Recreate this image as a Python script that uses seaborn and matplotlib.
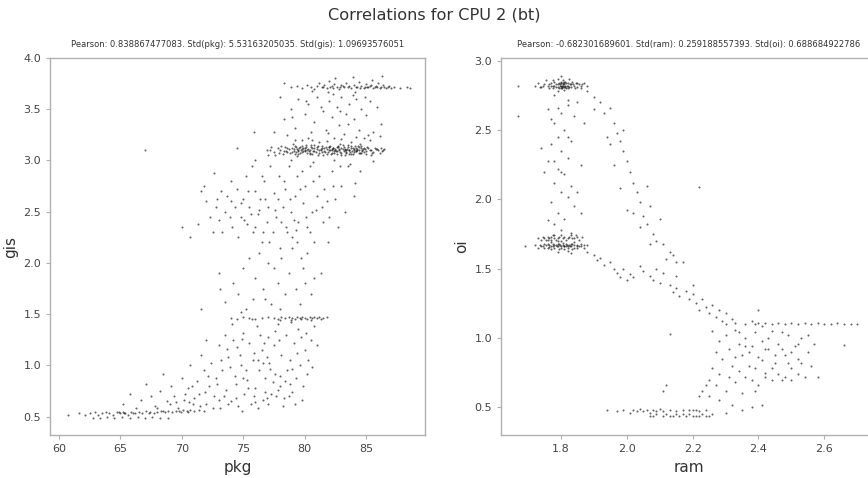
import matplotlib
matplotlib.use("Agg")
import matplotlib.pyplot as plt
import seaborn as sns
import pandas as pd

# ---------------- data ----------------
title = "Correlations for CPU 2 (bt)"
left_sub = "Pearson: 0.838867477083. Std(pkg): 5.53163205035. Std(gis): 1.09693576051"
right_sub = "Pearson: -0.682301689601. Std(ram): 0.259188557393. Std(oi): 0.688684922786"
left_xticks = [60, 65, 70, 75, 80, 85]
left_yticks = [0.5, 1.0, 1.5, 2.0, 2.5, 3.0, 3.5, 4.0]
right_xticks = [1.8, 2.0, 2.2, 2.4, 2.6]
right_yticks = [0.5, 1.0, 1.5, 2.0, 2.5, 3.0]

# left panel: (pkg, gis)
gis_band_low = [(60.7,0.52),(61.6,0.53),(62.1,0.52),(62.5,0.53),(62.9,0.54),(63.2,0.52),(63.5,0.53),(63.8,0.54),
    (64.1,0.53),(64.4,0.52),(64.7,0.54),(65.0,0.53),(65.2,0.54),(65.4,0.53),(65.6,0.52),(65.9,0.54),(66.2,0.53),
    (66.5,0.54),(66.8,0.53),(67.1,0.55),(67.4,0.54),(67.7,0.53),(68.0,0.54),(68.3,0.55),(68.6,0.54),(68.9,0.55),
    (69.2,0.54),(69.5,0.55),(69.8,0.55),(70.1,0.56),(70.4,0.55),(70.7,0.56),(71.0,0.55),(71.4,0.56),(71.8,0.55),
    (62.8,0.49),(63.3,0.49),(63.9,0.50),(64.5,0.49),(65.1,0.50),(65.8,0.49),(66.4,0.50),(67.0,0.49),(67.6,0.50),
    (68.2,0.49),(68.9,0.49),(64.9,0.54),(65.3,0.53),(66.0,0.53),(67.3,0.53),(68.5,0.55),(69.9,0.54),(70.5,0.54)]
gis_cloud_low = [(65.2,0.62),(65.8,0.72),(66.3,0.58),(66.7,0.66),(67.1,0.82),(67.5,0.70),(67.8,0.60),(68.2,0.75),
    (68.5,0.92),(68.8,0.65),(69.1,0.80),(69.4,0.70),(69.7,0.58),(70.0,0.88),(70.2,0.66),(70.5,0.78),(70.7,1.00),
    (70.9,0.62),(71.2,0.85),(71.4,0.72),(71.6,1.10),(71.8,0.95),(72.0,0.62),(72.2,0.80),(72.4,1.02),(72.6,0.70),
    (72.8,0.88),(73.0,1.20),(73.1,0.58),(73.3,0.95),(73.5,1.30),(73.6,0.76),(73.8,1.08),(74.0,0.65),(74.1,1.40),
    (74.3,0.90),(74.5,1.18),(74.6,0.60),(74.8,1.00),(75.0,1.32),(75.1,0.72),(75.3,0.86),(75.5,1.22),(75.6,0.62),
    (75.8,1.05),(76.0,0.78),(76.1,1.38),(76.3,0.95),(76.5,1.15),(76.6,0.66),(76.8,0.88),(77.0,1.28),(77.1,1.02),
    (77.3,0.72),(77.5,1.20),(77.6,0.92),(77.8,1.40),(78.0,0.80),(78.1,1.10),(78.3,0.68),(78.5,1.30),(78.6,0.95),
    (78.8,1.05),(79.0,0.74),(79.1,1.22),(79.3,0.88),(79.5,1.35),(79.6,1.00),(79.8,0.66),(80.0,1.15),(80.2,0.92),
    (80.5,1.25),(80.8,1.38),(81.0,1.20),(74.9,0.55),(76.2,0.58),(77.0,0.62),(78.7,0.70),(75.9,0.70),(76.8,0.74),
    (72.5,0.58),(73.8,0.62),(71.0,0.68),(69.5,0.64),(68.0,0.58),(75.2,0.95),(74.4,0.82),(76.9,1.08),(77.9,1.25),
    (78.9,1.42),(79.9,0.80),(73.2,1.05),(72.1,0.90),(70.8,0.80),(75.7,1.45),(76.4,1.30),(77.4,0.84),(78.2,0.60),
    (79.2,0.62),(74.2,1.25),(73.4,0.70),(74.7,1.10),(75.4,0.78),(76.7,1.22),(77.7,0.70),(78.4,0.85),(79.4,1.12),
    (80.3,1.05),(80.6,0.98),(76.2,1.05),(75.0,0.88),(73.9,0.98),(72.9,0.82),(71.5,0.60),(70.3,0.72),(69.0,0.62),
    (73.7,1.16),(74.9,1.26),(75.9,1.12),(76.6,1.02),(77.2,0.96),(78.0,0.90),(79.0,0.96),(79.7,1.28),(80.1,1.32),
    (77.6,1.34),(76.0,0.64),(76.9,0.68),(77.8,0.76),(78.8,0.82),(74.4,0.68),(73.0,0.66),(71.9,0.74),(70.6,0.64)]
gis_band_mid = [(74.0,1.46),(74.5,1.45),(75.0,1.47),(75.5,1.46),(76.0,1.45),(76.5,1.46),(77.0,1.47),(77.5,1.46),
    (77.8,1.45),(78.1,1.47),(78.4,1.46),(78.7,1.47),(79.0,1.46),(79.2,1.45),(79.4,1.47),(79.6,1.46),(79.8,1.47),
    (80.0,1.46),(80.2,1.45),(80.4,1.47),(80.6,1.46),(80.8,1.47),(81.0,1.46),(81.2,1.47),(81.5,1.46),(81.8,1.47),
    (78.0,1.44),(78.9,1.44),(79.7,1.45),(80.5,1.44),(81.3,1.45)]
gis_cloud_mid = [(70.0,2.35),(70.7,2.25),(71.3,2.38),(71.6,2.70),(71.8,2.75),(72.0,2.60),(72.3,2.45),(72.6,2.88),
    (72.8,2.55),(73.0,2.42),(73.2,2.70),(73.3,2.30),(73.5,2.50),(73.7,2.65),(74.0,2.80),(74.1,2.35),(74.3,2.55),
    (74.5,2.72),(74.6,2.25),(74.8,2.45),(75.0,2.62),(75.2,2.85),(75.3,2.38),(75.5,2.55),(75.7,2.95),(75.8,2.30),
    (76.0,2.70),(76.2,2.48),(76.4,2.62),(76.5,2.20),(76.7,2.80),(76.9,2.40),(77.0,2.55),(77.2,2.95),(77.4,2.30),
    (77.5,2.68),(77.7,2.45),(77.9,2.85),(78.0,2.15),(78.2,2.55),(78.4,2.72),(78.5,2.35),(78.7,2.95),(78.9,2.50),
    (79.0,2.25),(79.2,2.65),(79.4,2.85),(79.5,2.40),(79.7,2.05),(79.9,2.58),(80.0,2.75),(80.2,2.35),(80.4,2.95),
    (80.6,2.50),(80.8,2.20),(81.0,2.65),(81.2,2.85),(81.5,2.40),(81.8,2.60),(82.2,2.90),(82.7,2.35),(83.0,2.75),
    (83.5,2.95),(84.0,2.65),(84.5,2.90),(73.0,1.90),(73.1,1.75),(73.5,1.62),(74.2,1.80),(74.6,1.70),(75.0,1.95),
    (75.2,1.55),(75.5,2.05),(75.8,1.65),(76.0,1.85),(76.3,2.10),(76.6,1.75),(77.0,2.00),(77.3,1.60),(77.5,1.95),
    (77.8,1.80),(78.1,2.05),(78.4,1.70),(78.7,1.90),(79.0,2.15),(79.3,1.75),(79.6,1.60),(79.9,1.95),(80.2,2.10),
    (80.5,1.70),(80.8,1.85),(81.3,1.90),(76.8,1.65),(78.0,1.55),(74.8,1.52),(71.6,1.55),(72.0,1.25),(80.4,2.30),
    (77.0,3.05),(76.0,3.00),(74.5,3.12),(75.9,3.28),(76.5,2.85),(78.3,2.80),(79.8,2.90),(81.6,2.72),(82.0,2.45),
    (80.9,2.52),(79.1,2.42),(77.8,2.62),(76.3,2.52),(75.1,2.42),(74.0,2.60),(72.5,2.30),(81.9,2.20),(80.0,1.80),
    (79.4,2.20),(78.6,2.30),(77.1,2.20),(76.0,2.35),(75.4,2.70),(82.5,2.62),(83.3,2.50),(84.1,2.78),(82.9,2.95),
    (74.8,2.58),(75.6,2.48),(76.8,2.62),(77.6,2.52),(78.8,2.62),(79.6,2.72),(80.7,2.80),(81.4,2.55),(82.3,2.75),
    (80.1,2.45),(79.3,2.32),(78.1,2.40),(76.6,2.30),(73.9,2.45),(72.9,2.62)]
gis_band_3 = [(77.2,3.10),(77.5,3.08),(77.8,3.12),(78.0,3.10),(78.2,3.06),(78.4,3.13),(78.5,3.09),(78.7,3.11),
    (78.8,3.07),(79.0,3.12),(79.1,3.09),(79.2,3.14),(79.3,3.08),(79.4,3.11),(79.5,3.06),(79.6,3.13),(79.7,3.10),
    (79.8,3.08),(79.9,3.12),(80.0,3.09),(80.1,3.15),(80.2,3.07),(80.3,3.11),(80.4,3.10),(80.5,3.13),(80.6,3.06),
    (80.7,3.09),(80.8,3.12),(80.9,3.08),(81.0,3.11),(81.1,3.14),(81.2,3.07),(81.3,3.10),(81.4,3.12),(81.5,3.05),
    (81.6,3.09),(81.7,3.13),(81.8,3.11),(81.9,3.08),(82.0,3.10),(82.1,3.14),(82.2,3.07),(82.3,3.12),(82.4,3.09),
    (82.5,3.11),(82.6,3.06),(82.7,3.13),(82.8,3.10),(82.9,3.08),(83.0,3.12),(83.1,3.15),(83.2,3.09),(83.3,3.11),
    (83.4,3.07),(83.5,3.13),(83.6,3.10),(83.7,3.08),(83.8,3.12),(83.9,3.06),(84.0,3.11),(84.1,3.14),(84.2,3.09),
    (84.3,3.10),(84.4,3.13),(84.5,3.07),(84.6,3.12),(84.7,3.10),(84.8,3.08),(84.9,3.11),(85.0,3.09),(85.2,3.12),
    (85.4,3.10),(85.6,3.08),(85.8,3.11),(86.0,3.10),(86.2,3.12),(86.4,3.10),
    (77.6,3.05),(78.1,3.14),(78.6,3.08),(79.05,3.16),(79.35,3.04),(79.55,3.12),(79.85,3.09),(80.15,3.13),
    (80.45,3.07),(80.75,3.15),(81.05,3.05),(81.35,3.11),(81.65,3.08),(81.95,3.13),(82.15,3.06),(82.35,3.12),
    (82.55,3.09),(82.75,3.14),(82.95,3.05),(83.15,3.11),(83.35,3.08),(83.55,3.15),(83.75,3.06),(83.95,3.12),
    (84.15,3.09),(84.35,3.14),(84.55,3.07),(84.75,3.11),(85.1,3.13),(85.5,3.07),(85.9,3.11),(86.3,3.09),
    (79.2,3.20),(80.3,3.22),(81.8,3.19),(83.0,3.21),(84.2,3.23),(85.3,3.20),(86.1,3.24),(78.9,3.00),(80.7,2.98),
    (82.4,3.00),(83.7,2.97),(85.6,2.99),(79.45,3.10),(79.75,3.11),(80.05,3.10),(80.35,3.09),(82.05,3.10),
    (82.25,3.11),(82.45,3.10),(82.65,3.09),(83.25,3.10),(83.45,3.11),(83.65,3.10),(83.85,3.09),(84.05,3.10),
    (84.25,3.11),(84.45,3.10),(84.65,3.09)]
gis_band_3_core = [(79.0,3.08),(79.1,3.11),(79.3,3.13),(79.5,3.09),(79.6,3.07),(79.8,3.14),(80.0,3.12),(80.2,3.10),
    (80.4,3.06),(80.6,3.12),(80.8,3.09),(81.0,3.13),(81.2,3.10),(81.4,3.08),(81.6,3.12),(81.8,3.06),(82.0,3.13),
    (82.2,3.10),(82.4,3.07),(82.6,3.13),(82.8,3.11),(83.0,3.07),(83.2,3.13),(83.4,3.10),(83.6,3.06),(83.8,3.14),
    (84.0,3.08),(84.2,3.12),(84.4,3.07),(84.6,3.14),(84.8,3.12),(85.0,3.06),(85.3,3.10),(85.7,3.12),(86.1,3.07),
    (86.5,3.11),(78.3,3.09),(78.6,3.12),(77.9,3.07),(77.3,3.13),(76.9,3.10),(79.25,3.06),(80.55,3.15),(81.45,3.14),
    (82.85,3.16),(83.25,3.05),(84.5,3.16),(85.4,3.05)]
gis_cloud_hi = [(78.0,3.62),(78.3,3.40),(78.6,3.25),(78.9,3.50),(79.2,3.32),(79.5,3.60),(79.8,3.20),(80.0,3.45),
    (80.3,3.55),(80.5,3.28),(80.8,3.38),(81.0,3.62),(81.2,3.18),(81.5,3.48),(81.7,3.30),(82.0,3.58),(82.2,3.42),
    (82.4,3.22),(82.6,3.52),(82.8,3.35),(83.0,3.62),(83.2,3.26),(83.4,3.45),(83.6,3.55),(83.8,3.18),(84.0,3.40),
    (84.2,3.60),(84.4,3.30),(84.6,3.50),(84.8,3.22),(85.0,3.44),(85.3,3.58),(85.6,3.28),(85.9,3.52),(86.2,3.36),
    (82.3,3.65),(81.3,3.52),(83.9,3.64),(80.6,3.20),(77.5,3.28),(79.0,3.42),(84.9,3.62),(82.9,3.48),(83.5,3.36),
    (81.9,3.27),(80.1,3.58),(85.2,3.25)]
gis_band_hi = [(78.3,3.76),(78.9,3.72),(79.4,3.73),(79.8,3.71),(80.2,3.74),(80.5,3.72),(80.8,3.70),(81.0,3.73),
    (81.2,3.76),(81.4,3.72),(81.6,3.74),(81.8,3.71),(82.0,3.78),(82.2,3.73),(82.4,3.75),(82.6,3.72),(82.8,3.70),
    (83.0,3.74),(83.2,3.72),(83.4,3.76),(83.6,3.73),(83.8,3.71),(84.0,3.74),(84.2,3.72),(84.4,3.77),(84.6,3.73),
    (84.8,3.71),(85.0,3.75),(85.2,3.72),(85.4,3.74),(85.6,3.71),(85.8,3.73),(86.0,3.76),(86.2,3.72),(86.4,3.74),
    (86.6,3.71),(86.9,3.73),(87.3,3.72),(87.8,3.71),(88.3,3.72),(88.6,3.71),(82.5,3.80),(83.9,3.81),(85.5,3.79),
    (86.3,3.82),(80.6,3.68),(84.1,3.67),(81.9,3.67),(82.1,3.72),(83.1,3.73),(84.3,3.72),(85.1,3.72),(85.9,3.72),
    (81.5,3.72),(82.3,3.71),(82.9,3.72),(83.5,3.72),(84.5,3.71),(84.9,3.72),(85.3,3.73),(85.7,3.72),(86.1,3.71),
    (86.5,3.72),(86.8,3.72),(87.0,3.71)]
gis_outliers = [(67.0,3.10)]

# right panel: (ram, oi)
oi_band_top = [(1.72,2.82),(1.73,2.84),(1.74,2.81),(1.75,2.83),(1.755,2.86),(1.76,2.82),(1.765,2.80),(1.77,2.84),
    (1.775,2.82),(1.78,2.85),(1.785,2.81),(1.79,2.83),(1.795,2.80),(1.80,2.84),(1.802,2.82),(1.805,2.86),
    (1.808,2.81),(1.81,2.83),(1.812,2.85),(1.815,2.80),(1.818,2.82),(1.82,2.84),(1.825,2.81),(1.83,2.83),
    (1.835,2.85),(1.84,2.82),(1.845,2.84),(1.85,2.81),(1.855,2.83),(1.86,2.82),(1.87,2.84),(1.88,2.82),
    (1.80,2.89),(1.79,2.78),(1.81,2.79),(1.798,2.83),(1.806,2.84),(1.79,2.87),(1.826,2.87),(1.776,2.86),
    (1.796,2.82),(1.803,2.81),(1.807,2.83),(1.811,2.82),(1.799,2.85),(1.804,2.80),
    (1.785,2.83),(1.79,2.81),(1.794,2.84),(1.80,2.82),(1.801,2.80),(1.806,2.82),(1.809,2.85),(1.813,2.81),
    (1.816,2.84),(1.82,2.82),(1.823,2.80),(1.828,2.83),(1.78,2.82),(1.775,2.80),(1.77,2.82),(1.765,2.83),
    (1.832,2.81),(1.838,2.83),(1.842,2.80),(1.85,2.84),(1.86,2.80),(1.745,2.82),(1.735,2.81),(1.865,2.83)]
oi_column = [(1.78,2.75),(1.82,2.72),(1.85,2.70),(1.76,2.65),(1.80,2.62),(1.84,2.60),(1.78,2.55),(1.81,2.50),
    (1.79,2.45),(1.83,2.42),(1.77,2.40),(1.80,2.35),(1.82,2.30),(1.76,2.28),(1.79,2.22),(1.81,2.18),(1.78,2.12),
    (1.83,2.10),(1.80,2.05),(1.82,2.02),(1.77,1.98),(1.84,1.95),(1.79,1.90),(1.81,1.86),(1.78,1.82),(1.80,1.78),
    (1.83,1.76),(1.75,2.20),(1.74,2.37),(1.86,2.25),(1.87,2.55),(1.85,2.05),(1.86,1.90),(1.76,1.85),(1.77,2.58),
    (1.82,2.68),(1.79,2.66),(1.80,2.20),(1.78,2.28),(1.82,2.45)]
oi_diag_top = [(1.88,2.78),(1.90,2.74),(1.92,2.70),(1.93,2.62),(1.95,2.66),(1.96,2.55),(1.97,2.48),(1.98,2.42),
    (1.99,2.35),(2.00,2.28),(1.96,2.25),(2.01,2.20),(2.02,2.12),(1.98,2.08),(2.03,2.05),(2.04,1.98),(2.00,1.92),
    (2.05,1.88),(2.06,1.82),(2.07,1.95),(2.08,1.75),(2.10,1.86),(2.11,1.68),(2.13,1.62),(2.15,1.55),(2.04,1.80),
    (1.99,2.50),(1.94,2.45),(2.06,2.10),(1.90,2.65),(2.02,1.90),(2.09,1.70),(2.07,1.68),(2.14,1.60),(1.95,2.40),
    (2.22,2.09),(1.67,2.60),(1.67,2.82)]
oi_band_mid = [(1.73,1.72),(1.745,1.73),(1.755,1.71),(1.765,1.72),(1.775,1.74),(1.785,1.71),(1.795,1.73),
    (1.805,1.72),(1.815,1.71),(1.825,1.73),(1.835,1.72),(1.845,1.74),(1.855,1.71),(1.865,1.73),(1.77,1.71),
    (1.79,1.72),(1.80,1.74),(1.76,1.73),(1.78,1.72),
    (1.69,1.66),(1.72,1.67),(1.73,1.65),(1.74,1.66),(1.75,1.68),(1.76,1.65),(1.765,1.67),(1.77,1.66),
    (1.775,1.68),(1.78,1.65),(1.785,1.67),(1.79,1.66),(1.795,1.68),(1.80,1.65),(1.805,1.67),(1.81,1.66),
    (1.815,1.68),(1.82,1.65),(1.825,1.67),(1.83,1.66),(1.835,1.68),(1.84,1.65),(1.85,1.67),(1.86,1.66),
    (1.87,1.65),(1.88,1.67),(1.79,1.62),(1.82,1.63),(1.77,1.69),(1.84,1.69),(1.80,1.70),(1.83,1.61),
    (1.745,1.66),(1.755,1.67),(1.788,1.66),(1.798,1.67),(1.808,1.66),(1.818,1.67),(1.828,1.66),(1.848,1.66),
    (1.75,1.72),(1.76,1.71),(1.77,1.73),(1.78,1.74),(1.79,1.70),(1.81,1.73),(1.82,1.72),(1.83,1.74),(1.84,1.72),
    (1.85,1.73),(1.74,1.71),(1.735,1.67),(1.75,1.65),(1.76,1.68),(1.77,1.64),(1.78,1.67),(1.79,1.68),(1.80,1.66),
    (1.81,1.64),(1.82,1.66),(1.83,1.68),(1.84,1.67),(1.85,1.65),(1.86,1.68),(1.87,1.67),(1.765,1.655),
    (1.795,1.645),(1.815,1.665),(1.835,1.645),(1.855,1.665),(1.775,1.665),(1.805,1.685)]
oi_diag_low = [(1.88,1.62),(1.90,1.60),(1.91,1.56),(1.92,1.58),(1.93,1.53),(1.95,1.55),(1.96,1.50),(1.97,1.47),
    (1.98,1.44),(1.99,1.50),(2.00,1.42),(2.01,1.46),(2.02,1.44),(2.04,1.52),(2.05,1.48),(2.07,1.45),(2.08,1.42),
    (2.10,1.40),(2.11,1.47),(2.13,1.38),(2.14,1.33),(2.15,1.36),(2.16,1.30),(2.18,1.34),(2.19,1.28),(2.20,1.32),
    (2.21,1.25),(2.22,1.20),(2.23,1.28),(2.24,1.22),(2.25,1.18),(2.26,1.24),(2.27,1.15),(2.28,1.20),(2.29,1.12),
    (2.30,1.18),(2.32,1.14),(2.15,1.45),(2.17,1.55),(2.12,1.57),(2.09,1.50),(2.20,1.38),(2.13,1.03)]
oi_band_110 = [(2.30,1.10),(2.33,1.11),(2.36,1.10),(2.38,1.12),(2.39,1.10),(2.40,1.11),(2.41,1.09),(2.42,1.11),
    (2.44,1.10),(2.46,1.11),(2.48,1.10),(2.50,1.11),(2.52,1.10),(2.54,1.11),(2.56,1.10),(2.58,1.11),(2.60,1.10),
    (2.62,1.10),(2.64,1.11),(2.66,1.10),(2.68,1.10),(2.70,1.10),(2.74,1.10),(2.40,1.20)]
oi_cloud = [(2.26,1.05),(2.28,0.98),(2.30,1.02),(2.31,0.92),(2.33,1.06),(2.34,0.96),(2.35,0.88),(2.36,1.00),
    (2.37,0.80),(2.38,0.94),(2.39,1.04),(2.40,0.86),(2.41,0.98),(2.42,0.75),(2.43,0.92),(2.44,1.05),(2.45,0.82),
    (2.46,0.96),(2.47,0.70),(2.48,0.88),(2.49,1.02),(2.50,0.78),(2.51,0.94),(2.52,0.85),(2.53,1.00),(2.54,0.72),
    (2.55,0.90),(2.56,0.80),(2.57,0.96),(2.58,0.72),(2.25,0.70),(2.26,0.78),(2.27,0.66),(2.28,0.74),(2.29,0.85),
    (2.30,0.62),(2.31,0.72),(2.32,0.80),(2.33,0.68),(2.34,0.76),(2.35,0.60),(2.36,0.72),(2.38,0.70),(2.39,0.78),
    (2.40,0.66),(2.42,0.72),(2.44,0.70),(2.46,0.74),(2.48,0.72),(2.50,0.70),(2.52,0.74),(2.23,0.62),(2.24,0.66),
    (2.22,0.58),(2.28,0.55),(2.32,0.52),(2.35,0.48),(2.38,0.50),(2.30,0.46),(2.41,0.52),(2.45,0.88),(2.37,0.90),
    (2.43,1.00),(2.47,0.92),(2.52,0.96),(2.34,1.04),(2.66,0.95),(2.53,0.82),(2.49,0.82),(2.41,0.84),(2.33,0.86),
    (2.36,0.94),(2.44,0.78),(2.50,0.90),(2.39,0.62),(2.27,0.90),(2.55,1.02),(2.47,1.04),(2.42,0.92)]
oi_band_low = [(1.94,0.48),(1.97,0.47),(1.99,0.48),(2.01,0.46),(2.02,0.48),(2.03,0.47),(2.04,0.49),(2.05,0.47),
    (2.06,0.48),(2.07,0.46),(2.08,0.48),(2.09,0.47),(2.10,0.49),(2.11,0.47),(2.13,0.48),(2.15,0.47),(2.17,0.48),
    (2.19,0.48),(2.20,0.48),(2.21,0.48),(2.22,0.47),(2.24,0.48),(2.07,0.44),(2.09,0.45),(2.11,0.44),(2.13,0.44),
    (2.15,0.45),(2.16,0.44),(2.18,0.44),(2.19,0.45),(2.20,0.44),(2.22,0.44),(2.23,0.45),(2.25,0.44),(2.26,0.45),
    (2.11,0.62),(2.12,0.66),(2.25,0.58),(2.14,0.44),(2.17,0.45),(2.21,0.44),(2.12,0.45),(2.08,0.44),(2.24,0.44)]

left_df = pd.DataFrame(gis_band_low + gis_cloud_low + gis_band_mid + gis_cloud_mid + gis_band_3 + gis_band_3_core
                       + gis_cloud_hi + gis_band_hi + gis_outliers, columns=["pkg", "gis"])
right_df = pd.DataFrame(oi_band_top + oi_column + oi_diag_top + oi_band_mid + oi_diag_low
                        + oi_band_110 + oi_cloud + oi_band_low, columns=["ram", "oi"])

# ---------------- drawing ----------------
sns.set_theme(style="white")
plt.rcParams["font.family"] = ["DejaVu Sans"]
W, H = 868, 478
fig = plt.figure(figsize=(W / 100, H / 100), dpi=100)
fig.patch.set_facecolor("white")

axL = fig.add_axes([50 / W, (H - 435) / H, 375 / W, 377 / H])
axR = fig.add_axes([501 / W, (H - 435) / H, 375 / W, 377 / H])

kw = dict(color="#111111", s=2.2, linewidth=0, alpha=0.65, legend=False)
sns.scatterplot(data=left_df, x="pkg", y="gis", ax=axL, **kw)
sns.scatterplot(data=right_df, x="ram", y="oi", ax=axR, **kw)

axL.set_xlim(59.27, 89.8)
axL.set_ylim(0.32, 4.0)
axR.set_xlim(1.618, 2.757)
axR.set_ylim(0.30, 3.02)
axL.set_xticks(left_xticks)
axL.set_yticks(left_yticks)
axR.set_xticks(right_xticks)
axR.set_yticks(right_yticks)

for ax, sub in ((axL, left_sub), (axR, right_sub)):
    for sp in ax.spines.values():
        sp.set_color("#b0b0b0")
        sp.set_linewidth(1.0)
    ax.tick_params(axis="both", which="major", direction="out", length=3, width=0.8,
                   color="#b0b0b0", labelsize=8, labelcolor="#444444", bottom=True, left=True)
    ax.set_title(sub, fontsize=6.0, color="#333333", pad=8)
    ax.xaxis.label.set_size(11)
    ax.yaxis.label.set_size(11)
    ax.xaxis.label.set_color("#333333")
    ax.yaxis.label.set_color("#333333")

axL.set_yticklabels([f"{v:.1f}" for v in left_yticks])
axR.set_yticklabels([f"{v:.1f}" for v in right_yticks])
axR.set_xticklabels([f"{v:.1f}" for v in right_xticks])

fig.text(0.5, 1 - 15 / H, title, ha="center", va="center", fontsize=11.6, color="#333333")

fig.savefig("out.png", dpi=100)
